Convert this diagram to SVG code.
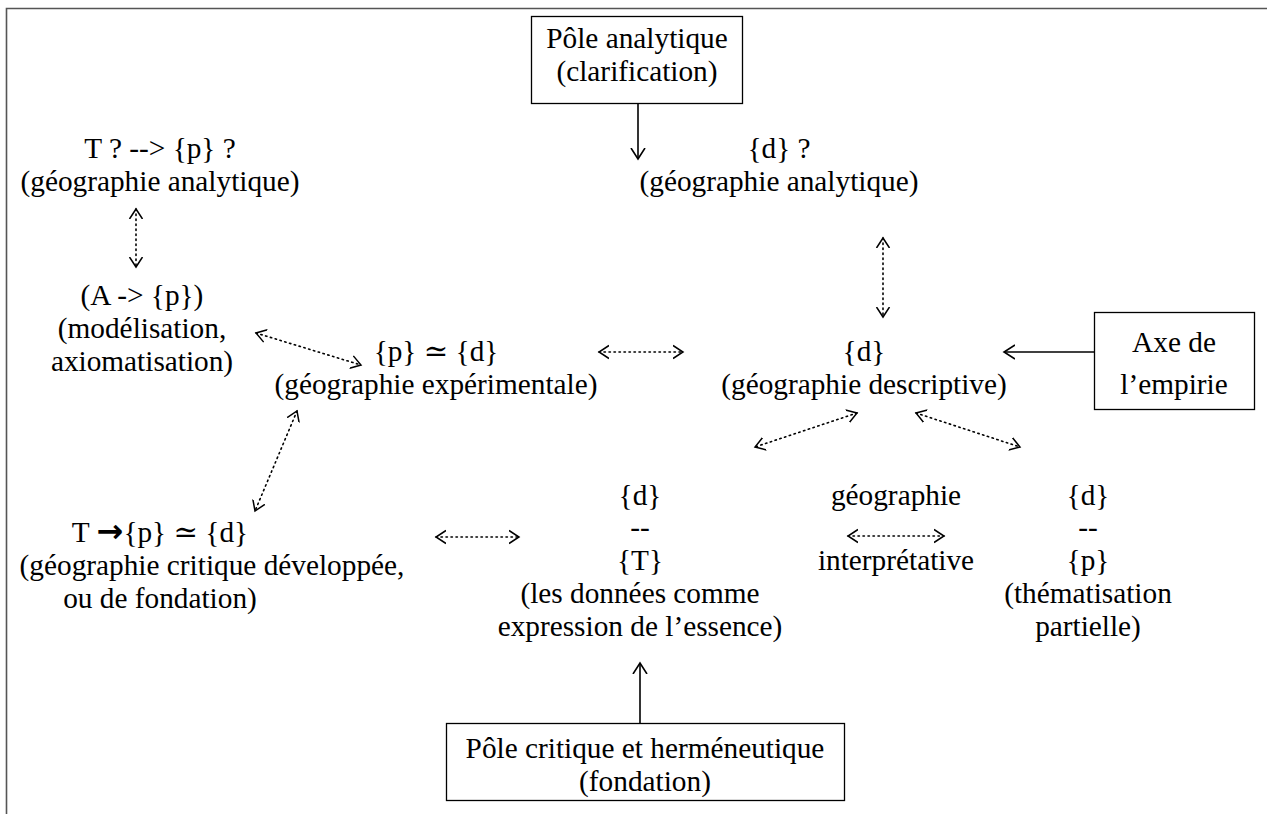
<svg xmlns="http://www.w3.org/2000/svg" width="1267" height="814" viewBox="0 0 1267 814" font-family="'Liberation Serif', 'Times New Roman', 'DejaVu Serif', serif">
<style>
text{font-family:"Liberation Serif","Times New Roman","DejaVu Serif",serif;font-size:29.3px;fill:#000;text-anchor:middle}
.arr{font-family:"DejaVu Sans",sans-serif;font-weight:bold;font-size:32px}
.box{fill:#fff;stroke:#000;stroke-width:1.3}
.solid{stroke:#000;stroke-width:1.6;fill:none}
.dot{stroke:#000;stroke-width:1.6;fill:none;stroke-dasharray:1.4 3.6;stroke-linecap:round}
.frame{stroke:#555;stroke-width:1.6;fill:none}
</style>
<defs>
<marker id="ah" markerUnits="userSpaceOnUse" markerWidth="16" markerHeight="16" refX="11" refY="8" orient="auto-start-reverse">
<path d="M0,1 L11,8 L0,15" fill="none" stroke="#000" stroke-width="1.6"/>
</marker>
<marker id="dh" markerUnits="userSpaceOnUse" markerWidth="16" markerHeight="16" refX="10" refY="8" orient="auto-start-reverse">
<path d="M0,1.5 L10,8 L0,14.5" fill="none" stroke="#000" stroke-width="1.5"/>
</marker>
</defs>
<rect width="1267" height="814" fill="#fff"/>
<path class="frame" d="M6.5,814 L6.5,8.5 L1267,8.5"/>

<g id="pole-analytique">
<rect class="box" x="531.5" y="16.5" width="211" height="87"/>
<text x="637" y="48">Pôle analytique</text>
<text x="637" y="81">(clarification)</text>
</g>
<g id="n-tp">
<text x="160" y="158">T ? --&gt; {p} ?</text>
<text x="160" y="191">(géographie analytique)</text>
</g>
<g id="n-d-q">
<text x="779" y="158">{d} ?</text>
<text x="779" y="191">(géographie analytique)</text>
</g>
<g id="n-ap">
<text x="142" y="305">(A -&gt; {p})</text>
<text x="142" y="338">(modélisation,</text>
<text x="142" y="371">axiomatisation)</text>
</g>
<g id="n-pd">
<text x="436" y="361">{p} ≃ {d}</text>
<text x="436" y="394">(géographie expérimentale)</text>
</g>
<g id="n-d">
<text x="864" y="361">{d}</text>
<text x="864" y="394">(géographie descriptive)</text>
</g>
<g id="axe-empirie">
<rect class="box" x="1094.5" y="312.5" width="160" height="97"/>
<text x="1174" y="352">Axe de</text>
<text x="1174" y="394">l’empirie</text>
</g>
<g id="n-tpd">
<text x="160" y="542">T <tspan class="arr">→</tspan>{p} ≃ {d}</text>
<text x="212" y="575">(géographie critique développée,</text>
<text x="160" y="608">ou de fondation)</text>
</g>
<g id="n-dt">
<text x="640" y="505">{d}</text>
<text x="640" y="537">--</text>
<text x="640" y="570">{T}</text>
<text x="640" y="603">(les données comme</text>
<text x="640" y="636">expression de l’essence)</text>
</g>
<g id="n-interp">
<text x="896" y="505">géographie</text>
<text x="896" y="570">interprétative</text>
</g>
<g id="n-dp">
<text x="1088" y="505">{d}</text>
<text x="1088" y="537">--</text>
<text x="1088" y="570">{p}</text>
<text x="1088" y="603">(thématisation</text>
<text x="1088" y="636">partielle)</text>
</g>
<g id="pole-critique">
<rect class="box" x="446.5" y="723.5" width="398" height="77"/>
<text x="645" y="758">Pôle critique et herméneutique</text>
<text x="645" y="791">(fondation)</text>
</g>

<g id="connectors">
<line class="solid" x1="638" y1="104" x2="638" y2="159" marker-end="url(#ah)"/>
<line class="solid" x1="1094" y1="352" x2="1004" y2="352" marker-end="url(#ah)"/>
<line class="solid" x1="640" y1="723" x2="640" y2="663" marker-end="url(#ah)"/>
<line class="dot" x1="136" y1="209" x2="136" y2="267" marker-start="url(#dh)" marker-end="url(#dh)"/>
<line class="dot" x1="883" y1="238" x2="883" y2="317" marker-start="url(#dh)" marker-end="url(#dh)"/>
<line class="dot" x1="256" y1="333" x2="361" y2="365" marker-start="url(#dh)" marker-end="url(#dh)"/>
<line class="dot" x1="599" y1="352" x2="683" y2="352" marker-start="url(#dh)" marker-end="url(#dh)"/>
<line class="dot" x1="297" y1="411" x2="255" y2="511" marker-start="url(#dh)" marker-end="url(#dh)"/>
<line class="dot" x1="436" y1="537" x2="519" y2="537" marker-start="url(#dh)" marker-end="url(#dh)"/>
<line class="dot" x1="857" y1="413" x2="755" y2="447" marker-start="url(#dh)" marker-end="url(#dh)"/>
<line class="dot" x1="916" y1="413" x2="1020" y2="447" marker-start="url(#dh)" marker-end="url(#dh)"/>
<line class="dot" x1="848" y1="536" x2="944" y2="536" marker-start="url(#dh)" marker-end="url(#dh)"/>
</g>
</svg>
